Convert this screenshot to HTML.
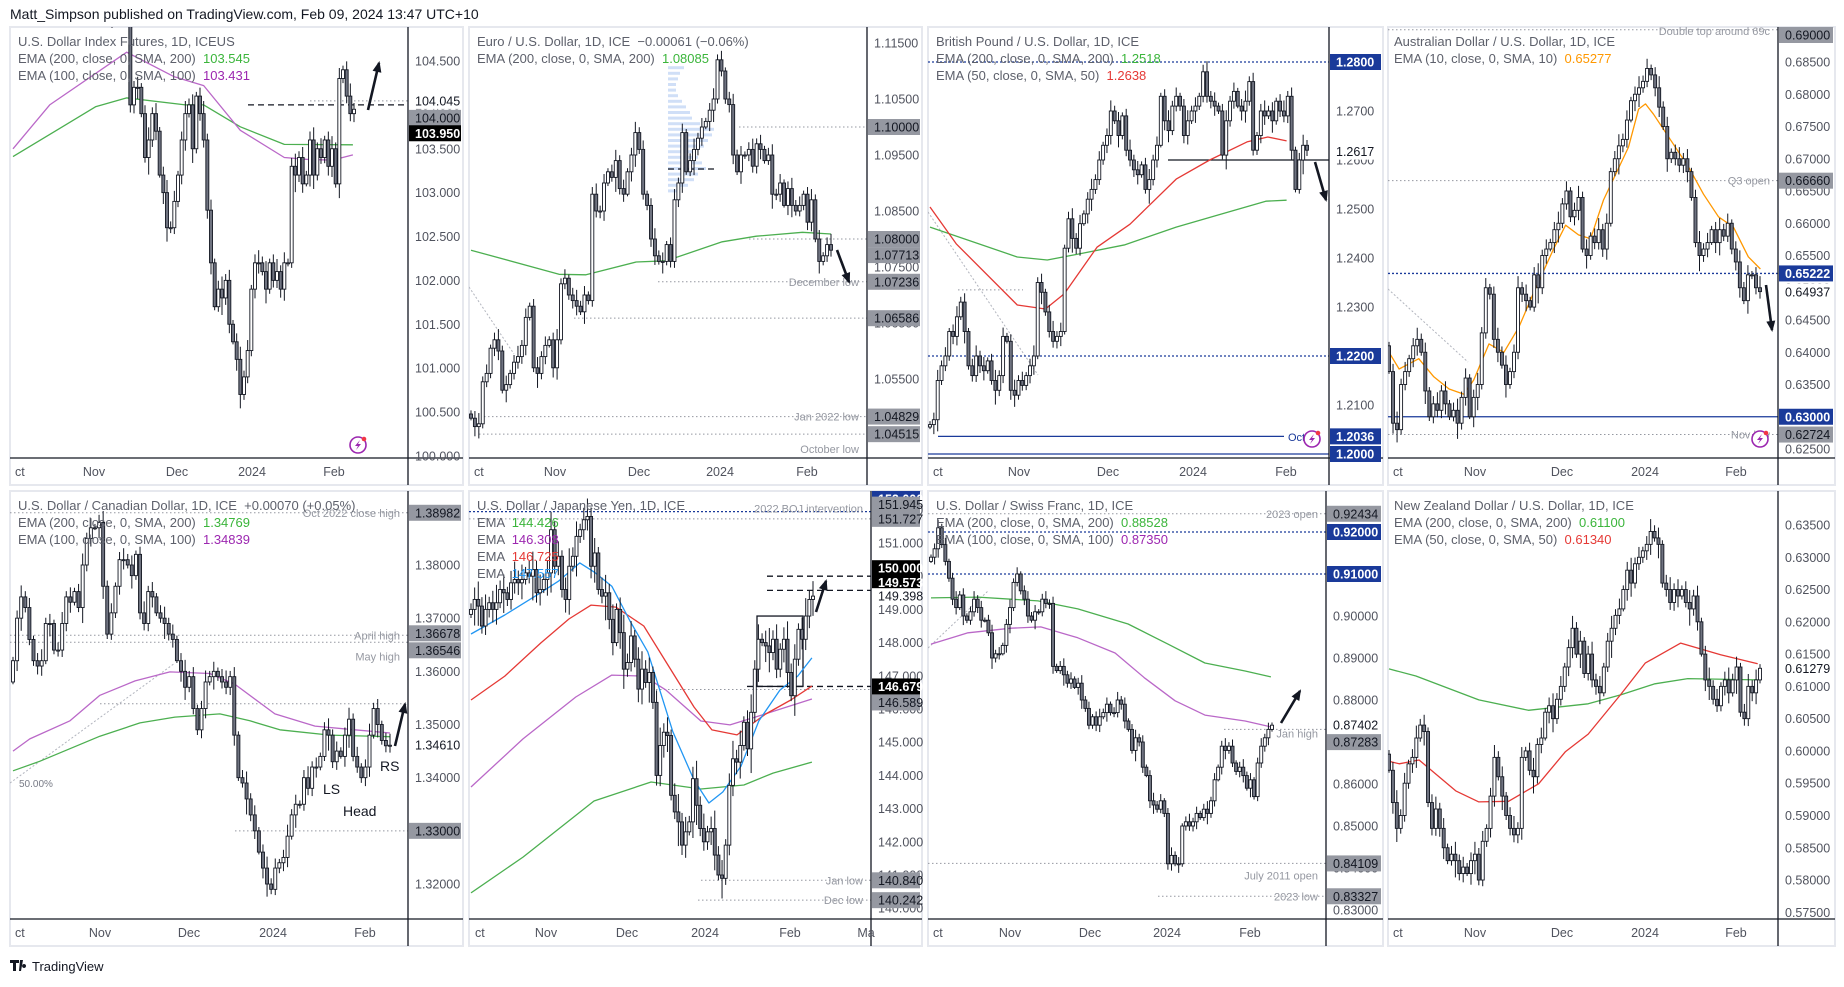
<!DOCTYPE html>
<html><head><meta charset="utf-8">
<style>
html,body{margin:0;padding:0;background:#fff;}
body{width:1844px;height:982px;overflow:hidden;font-family:"Liberation Sans",sans-serif;}
svg text{font-family:"Liberation Sans",sans-serif;}
</style></head>
<body>
<svg id="root" xmlns="http://www.w3.org/2000/svg" width="1844" height="982" viewBox="0 0 1844 982">
<text x="10" y="19" font-size="14" fill="#131722">Matt_Simpson published on TradingView.com, Feb 09, 2024 13:47 UTC+10</text>
<g>
<path d="M10 960h9v3h-3v8h-3v-8h-3z M20 960h3l-2 11h-2z M24 964a2 2 0 1 0 0.1 0z" fill="#131722"/>
<text x="32" y="971" font-size="13" fill="#131722">TradingView</text>
</g>
</svg>
<script>
// ---------- DATA (daily closes, Oct 2023 - Feb 2024) ----------
const monthLabels = ['ct','Nov','Dec','2024','Feb'];
const dxyClose = [106.2,106.6,106.8,106.3,106.1,105.8,105.6,105.4,105.7,106.4,106.5,106.2,106.3,106.3,105.9,106.2,106.1,105.5,105.6,106.0,106.5,106.6,106.8,106.4,106.0,105.1,105.0,105.4,105.6,105.5,105.8,106.0,104.0,104.2,104.2,103.9,103.4,103.6,103.9,103.7,103.2,103.0,102.6,102.6,102.9,103.2,103.6,103.9,104.0,103.5,104.1,103.9,103.6,102.8,102.2,101.7,101.9,101.8,102.0,101.5,101.3,101.1,100.7,100.9,101.2,101.9,102.2,102.2,102.1,101.9,102.2,102.0,102.1,101.9,102.2,102.2,103.3,103.2,103.4,103.1,103.2,103.6,103.2,103.5,103.4,103.6,103.3,103.5,103.1,104.3,104.4,104.1,103.9,103.95];
const eurClose = [1.0480,1.0465,1.0470,1.0545,1.0560,1.0605,1.0620,1.0600,1.0530,1.0540,1.0560,1.0580,1.0590,1.0610,1.0660,1.0680,1.0570,1.0560,1.0590,1.0610,1.0620,1.0570,1.0620,1.0720,1.0730,1.0700,1.0690,1.0680,1.0670,1.0700,1.0690,1.0880,1.0850,1.0850,1.0900,1.0920,1.0910,1.0940,1.0890,1.0880,1.0920,1.0950,1.0990,1.0960,1.0880,1.0860,1.0800,1.0770,1.0760,1.0760,1.0790,1.0760,1.0870,1.0900,1.0990,1.0920,1.0940,1.0960,1.0980,1.1000,1.1010,1.1030,1.1050,1.1120,1.1100,1.1050,1.1040,1.0950,1.0920,1.0950,1.0950,1.0960,1.0930,1.0970,1.0960,1.0940,1.0950,1.0880,1.0880,1.0900,1.0860,1.0890,1.0860,1.0850,1.0860,1.0880,1.0830,1.0870,1.0800,1.0760,1.0770,1.0790,1.0780];
const gbpClose = [1.2060,1.2070,1.2150,1.2180,1.2200,1.2250,1.2240,1.2280,1.2310,1.2250,1.2180,1.2160,1.2200,1.2180,1.2170,1.2190,1.2150,1.2130,1.2160,1.2240,1.2230,1.2130,1.2120,1.2150,1.2140,1.2160,1.2180,1.2200,1.2350,1.2330,1.2290,1.2250,1.2230,1.2240,1.2250,1.2420,1.2480,1.2440,1.2420,1.2470,1.2490,1.2520,1.2540,1.2560,1.2600,1.2630,1.2650,1.2700,1.2680,1.2650,1.2690,1.2620,1.2600,1.2580,1.2570,1.2590,1.2540,1.2560,1.2600,1.2630,1.2730,1.2680,1.2660,1.2710,1.2730,1.2710,1.2650,1.2680,1.2700,1.2710,1.2730,1.2780,1.2730,1.2720,1.2710,1.2700,1.2610,1.2680,1.2720,1.2740,1.2710,1.2700,1.2720,1.2760,1.2620,1.2650,1.2700,1.2690,1.2700,1.2680,1.2720,1.2700,1.2690,1.2730,1.2620,1.2540,1.2600,1.2630,1.2620];
const audClose = [0.6370,0.6290,0.6280,0.6350,0.6370,0.6390,0.6410,0.6420,0.6400,0.6340,0.6300,0.6320,0.6310,0.6340,0.6320,0.6300,0.6310,0.6290,0.6330,0.6360,0.6300,0.6330,0.6350,0.6430,0.6500,0.6490,0.6420,0.6400,0.6380,0.6350,0.6370,0.6400,0.6500,0.6490,0.6480,0.6470,0.6520,0.6500,0.6550,0.6560,0.6570,0.6590,0.6600,0.6630,0.6650,0.6610,0.6620,0.6640,0.6560,0.6550,0.6580,0.6570,0.6590,0.6560,0.6600,0.6680,0.6700,0.6720,0.6730,0.6760,0.6790,0.6800,0.6810,0.6820,0.6840,0.6830,0.6810,0.6780,0.6750,0.6700,0.6710,0.6700,0.6690,0.6700,0.6680,0.6640,0.6570,0.6550,0.6560,0.6570,0.6590,0.6570,0.6590,0.6580,0.6600,0.6560,0.6540,0.6500,0.6480,0.6520,0.6520,0.6500,0.6494];
const cadClose = [1.3620,1.3700,1.3740,1.3720,1.3660,1.3620,1.3610,1.3620,1.3690,1.3690,1.3640,1.3640,1.3690,1.3740,1.3730,1.3750,1.3720,1.3800,1.3850,1.3870,1.3870,1.3880,1.3760,1.3670,1.3710,1.3760,1.3810,1.3810,1.3800,1.3780,1.3820,1.3710,1.3690,1.3750,1.3740,1.3710,1.3700,1.3690,1.3670,1.3660,1.3620,1.3600,1.3570,1.3590,1.3530,1.3490,1.3530,1.3580,1.3590,1.3600,1.3590,1.3580,1.3570,1.3590,1.3480,1.3400,1.3390,1.3360,1.3330,1.3300,1.3260,1.3230,1.3200,1.3190,1.3230,1.3240,1.3250,1.3290,1.3330,1.3350,1.3350,1.3400,1.3380,1.3420,1.3420,1.3440,1.3490,1.3480,1.3430,1.3450,1.3440,1.3480,1.3510,1.3440,1.3420,1.3400,1.3420,1.3480,1.3530,1.3500,1.3470,1.3460,1.3461];
const jpyClose = [149.0,149.3,149.1,148.5,149.0,149.2,149.0,149.2,149.6,149.5,149.3,149.8,149.9,149.8,149.9,150.1,150.0,150.2,149.5,149.6,149.9,150.1,151.4,150.3,150.6,149.6,149.3,150.3,150.6,151.2,151.4,151.7,151.8,150.3,150.7,149.6,149.4,149.5,148.7,148.0,149.0,148.3,147.2,147.4,148.2,147.5,146.6,147.2,146.8,147.1,146.2,144.0,144.9,145.3,145.2,143.4,142.9,142.6,141.9,142.3,142.6,143.9,143.1,142.4,142.0,142.3,142.4,141.6,141.0,140.9,141.9,143.7,144.5,144.4,144.9,145.6,144.8,145.9,147.2,148.1,148.0,147.9,147.7,148.1,147.2,147.8,148.1,147.1,146.4,147.5,148.4,148.1,148.8,149.3,149.4];
const chfClose = [0.9140,0.9160,0.9210,0.9170,0.9130,0.9090,0.9040,0.9020,0.9050,0.9000,0.8990,0.9010,0.9040,0.9020,0.8990,0.8990,0.8960,0.8900,0.8910,0.8910,0.8930,0.8980,0.9020,0.9080,0.9100,0.9060,0.9040,0.9000,0.8990,0.9010,0.9010,0.9040,0.9030,0.9030,0.8880,0.8870,0.8880,0.8860,0.8840,0.8850,0.8830,0.8840,0.8800,0.8780,0.8740,0.8760,0.8740,0.8760,0.8770,0.8790,0.8770,0.8770,0.8800,0.8790,0.8750,0.8730,0.8680,0.8710,0.8700,0.8640,0.8620,0.8560,0.8550,0.8540,0.8560,0.8530,0.8410,0.8430,0.8410,0.8410,0.8500,0.8510,0.8500,0.8510,0.8530,0.8520,0.8540,0.8530,0.8560,0.8610,0.8640,0.8690,0.8680,0.8690,0.8650,0.8630,0.8640,0.8620,0.8590,0.8610,0.8570,0.8650,0.8690,0.8710,0.8730,0.8740];
const nzdClose = [0.5970,0.5920,0.5880,0.5900,0.5950,0.5980,0.5990,0.6020,0.6040,0.6030,0.5920,0.5880,0.5910,0.5880,0.5850,0.5830,0.5840,0.5830,0.5810,0.5820,0.5810,0.5830,0.5840,0.5800,0.5860,0.5880,0.5930,0.5990,0.5960,0.5930,0.5900,0.5880,0.5870,0.5880,0.5990,0.6000,0.5970,0.5960,0.6010,0.6020,0.6060,0.6070,0.6050,0.6080,0.6100,0.6130,0.6160,0.6190,0.6150,0.6170,0.6120,0.6150,0.6110,0.6100,0.6090,0.6130,0.6170,0.6190,0.6210,0.6220,0.6250,0.6280,0.6260,0.6290,0.6300,0.6310,0.6320,0.6340,0.6330,0.6320,0.6260,0.6250,0.6230,0.6250,0.6240,0.6250,0.6230,0.6220,0.6240,0.6200,0.6150,0.6110,0.6100,0.6080,0.6070,0.6100,0.6110,0.6090,0.6110,0.6130,0.6060,0.6050,0.6100,0.6090,0.6110,0.6128];

// EMA lines: candle index + value
const dxyEma200Idx = [0,22.6,31,47,52,62,74,92.7];
const dxyEma200Val = [103.41,103.98,104.08,104.0,104.0,103.75,103.55,103.545];
const dxyEma100Idx = [0,10,31,44,52,62,74,80,87,92.7];
const dxyEma100Val = [103.5,104.0,104.6,104.32,104.22,103.71,103.4,103.38,103.37,103.43];
const eurEma200Idx = [0,22.5,29.4,42.2,49.9,64.2,72.9,84.7,92];
const eurEma200Val = [1.0780,1.0737,1.0736,1.0759,1.0761,1.0795,1.0805,1.0812,1.0809];
const gbpEma200Idx = [0,22.7,30.5,38.5,50.7,64,75,87.3,92.7];
const gbpEma200Val = [1.2463,1.2402,1.2396,1.2408,1.2427,1.2463,1.2488,1.2516,1.2518];
const gbpEma50Idx = [0,6.8,22.7,30,34.9,43.4,52,64,72.7,82.4,87.8,92.7];
const gbpEma50Val = [1.2504,1.2429,1.2304,1.2296,1.2327,1.2422,1.2469,1.2561,1.2600,1.2637,1.2647,1.2639];
const audEma10Idx = [0,2.5,7.4,11.1,14.9,18.6,21,24.8,28.5,32.2,35.9,40.8,43.8,47,50,53.2,59.4,61.9,63.6,65.6,69.3,74.3,78,81.7,85.4,89.1,92.1];
const audEma10Val = [0.6400,0.6374,0.6390,0.6362,0.6343,0.6335,0.6357,0.6413,0.6400,0.6439,0.6493,0.6560,0.6597,0.6582,0.6576,0.6636,0.6718,0.6777,0.6785,0.6769,0.6734,0.6687,0.6645,0.6610,0.6594,0.6548,0.6529];
const cadEma200Idx = [0,6.6,21.2,31,39.5,50.5,57.8,65.1,77.3,92];
const cadEma200Val = [1.3413,1.3431,1.3478,1.3503,1.3514,1.3520,1.3507,1.3490,1.3480,1.3477];
const cadEma100Idx = [0,4.1,13.9,21.2,29.8,38.3,48,54.1,63.9,73.7,83.4,92];
const cadEma100Val = [1.3450,1.3473,1.3507,1.3555,1.3582,1.3599,1.3596,1.3576,1.3520,1.3497,1.3490,1.3484];
const jpyEmaGIdx = [0,14.3,33.8,49.5,63.2,75,83,93.7];
const jpyEmaGVal = [140.46,141.54,143.23,143.80,143.59,143.71,144.07,144.40];
const jpyEmaPIdx = [0,14.3,28.8,38.7,47.5,53.6,63.2,71.2,79.1,86.8,93.7];
const jpyEmaPVal = [143.65,145.10,146.36,147.02,146.99,146.57,145.64,145.52,145.79,146.06,146.30];
const jpyEmaRIdx = [0,9.3,19.2,26.9,33,39.8,47.5,53.6,61.3,66.2,73.1,81,87.9,93.7];
const jpyEmaRVal = [146.27,146.99,147.99,148.71,149.13,149.07,148.50,147.42,146.06,145.37,145.22,145.85,146.27,146.69];
const jpyEmaBIdx = [0,9.3,18.1,24.2,29.9,33.8,38.7,43.7,48.6,55.5,61.3,65.4,69.2,74.2,79.1,84.9,89.8,93.7];
const jpyEmaBVal = [148.26,148.83,149.43,149.86,150.40,150.13,149.70,148.65,147.72,145.31,143.86,143.17,143.50,144.28,145.64,146.57,146.99,147.54];
const chfEma200Idx = [0,13.1,29.8,40.9,54.9,66,76.3,87.5,94.7];
const chfEma200Val = [0.9043,0.9045,0.9036,0.9017,0.8981,0.8933,0.8888,0.8869,0.8855];
const chfEma100Idx = [0,10.3,22.3,30.6,40.9,51.3,59.6,68,76.3,87.5,94.7];
const chfEma100Val = [0.8933,0.8960,0.8971,0.8974,0.8948,0.8912,0.8852,0.8798,0.8764,0.8750,0.8736];
const nzdEma200Idx = [0,6.9,23,35.7,51,59.4,68.1,76.5,94.4];
const nzdEma200Val = [0.6127,0.6116,0.6079,0.6063,0.6073,0.6087,0.6104,0.6112,0.6110];
const nzdEma50Idx = [0,2.6,7.7,17.1,23,30.6,38.3,45.2,51,59.4,65.6,74.7,84.9,94.4];
const nzdEma50Val = [0.5984,0.5980,0.5986,0.5938,0.5921,0.5922,0.5949,0.5999,0.6026,0.6088,0.6136,0.6167,0.6149,0.6135];
const eurVpPrice = [1.0885,1.0895,1.0905,1.0915,1.0925,1.0935,1.0945,1.0955,1.0965,1.0975,1.0985,1.0995,1.1005,1.1015,1.1025,1.1035,1.1045,1.1055,1.1065,1.1075,1.1085,1.1095,1.1105];
const eurVpLen = [12,20,26,30,38,34,30,28,36,40,44,46,32,24,22,18,14,10,8,8,10,12,16];

// ---------- LAYOUT ----------
const C = {green:'#4caf50', purple:'#ba68c8', red:'#e53935', blue:'#2196f3', orange:'#ff9800'};
const VC = {green:'#3bb53b', purple:'#9c27b0', red:'#e53935', blue:'#2196f3', orange:'#ff9800'};
const panels = [
 {name:'dxy', x:10,y:27,w:453,ph:431,ax:398,pA:104.5,yA:34,k:87.75,dec:3,t0:100,t1:104.5,ts:0.5,x0:3,x1:344,wick:0.12,months:[5,84,167,242,324],close:dxyClose,
  legend:[[['U.S. Dollar Index Futures, 1D, ICEUS']],[['EMA (200, close, 0, SMA, 200)  '],['103.545','green']],[['EMA (100, close, 0, SMA, 100)  '],['103.431','purple']]],
  emas:[[dxyEma200Idx,dxyEma200Val,'green'],[dxyEma100Idx,dxyEma100Val,'purple']],
  lines:[{p:104.0,x1:238,st:'dash'},{p:104.045,x1:300,st:'dot'}],
  tags:[{p:104.045,t:'104.045',s:'t'},{p:104.0,t:'104.000',s:'g',dy:13},{p:103.95,t:'103.950',s:'k',dy:24}],
  arrows:[[358,83,369,36]], icon:[348,418]},
 {name:'eurusd', x:469,y:27,w:453,ph:431,ax:398,pA:1.115,yA:16,k:5600,dec:5,t0:1.045,t1:1.115,ts:0.01,x0:2,x1:362,wick:0.0016,months:[5,86,170,251,338],close:eurClose,
  legend:[[['Euro / U.S. Dollar, 1D, ICE  −0.00061 (−0.06%)']],[['EMA (200, close, 0, SMA, 200)  '],['1.08085','green']]],
  emas:[[eurEma200Idx,eurEma200Val,'green']], vp:true,
  lines:[{p:1.1,x1:270,st:'dot'},{p:1.08,x1:280,st:'dot'},{p:1.07236,x1:189,st:'dot',label:'December low'},{p:1.06586,x1:105,st:'dot'},{p:1.04829,x1:15,st:'dot',label:'Jan 2022 low'},{p:1.04515,x1:10,st:'dot',label:'October low',ldy:15},{p:1.0925,x1:199,x2:245,st:'dash'}],
  tags:[{p:1.1,t:'1.10000',s:'g'},{p:1.08,t:'1.08000',s:'g'},{p:1.07713,t:'1.07713',s:'g'},{p:1.07236,t:'1.07236',s:'g'},{p:1.06586,t:'1.06586',s:'g'},{p:1.04829,t:'1.04829',s:'g'},{p:1.04515,t:'1.04515',s:'g'}],
  diag:[0,260,45,327], arrows:[[368,223,380,255]]},
 {name:'gbpusd', x:928,y:27,w:455,ph:431,ax:401,pA:1.27,yA:84,k:4900,dec:4,t0:1.20,t1:1.28,ts:0.01,x0:2,x1:379,wick:0.0018,months:[5,91,180,265,358],close:gbpClose,
  legend:[[['British Pound / U.S. Dollar, 1D, ICE']],[['EMA (200, close, 0, SMA, 200)  '],['1.2518','green']],[['EMA (50, close, 0, SMA, 50)  '],['1.2638','red']]],
  emas:[[gbpEma200Idx,gbpEma200Val,'green'],[gbpEma50Idx,gbpEma50Val,'red']],
  lines:[{p:1.28,x1:0,st:'dotn'},{p:1.26,x1:240,st:'solid'},{p:1.22,x1:0,st:'dotn'},{p:1.2036,x1:10,x2:356,st:'solidn'},{p:1.20,x1:0,st:'solidn'},{p:1.2335,x1:30,x2:95,st:'dot'}],
  tags:[{p:1.28,t:'1.2800',s:'n'},{p:1.2617,t:'1.2617',s:'t'},{p:1.22,t:'1.2200',s:'n'},{p:1.2036,t:'1.2036',s:'n'},{p:1.20,t:'1.2000',s:'n'}],
  texts:[{x:360,y:414,t:'Oct',fs:11,c:'#1a3a9a'}],
  diag:[0,185,110,348], arrows:[[387,135,398,173]], icon:[384,412]},
 {name:'audusd', x:1388,y:27,w:447,ph:431,ax:390,pA:0.685,yA:35,k:6450,dec:5,t0:0.625,t1:0.69,ts:0.005,x0:1,x1:372,wick:0.0015,months:[5,87,174,257,348],close:audClose,
  legend:[[['Australian Dollar / U.S. Dollar, 1D, ICE']],[['EMA (10, close, 0, SMA, 10)  '],['0.65277','orange']]],
  emas:[[audEma10Idx,audEma10Val,'orange']],
  lines:[{p:0.69,x1:0,st:'dot',label:'Double top around 69c',ldy:1},{p:0.6666,x1:0,st:'dot',label:'Q3 open'},{p:0.65222,x1:0,st:'dotn'},{p:0.63,x1:0,st:'solidn'},{p:0.62724,x1:0,st:'dot',label:'Nov low'}],
  tags:[{p:0.69,t:'0.69000',s:'g'},{p:0.6666,t:'0.66660',s:'g'},{p:0.65222,t:'0.65222',s:'n'},{p:0.64937,t:'0.64937',s:'t'},{p:0.63,t:'0.63000',s:'n'},{p:0.62724,t:'0.62724',s:'g'}],
  diag:[0,262,80,335], arrows:[[378,258,384,303]], icon:[372,412]},
 {name:'usdcad', x:10,y:491,w:453,ph:428,ax:398,pA:1.38,yA:74,k:5317,dec:5,t0:1.31,t1:1.39,ts:0.01,x0:3,x1:380,wick:0.0018,months:[5,90,179,263,355],close:cadClose,
  legend:[[['U.S. Dollar / Canadian Dollar, 1D, ICE  +0.00070 (+0.05%)']],[['EMA (200, close, 0, SMA, 200)  '],['1.34769','green']],[['EMA (100, close, 0, SMA, 100)  '],['1.34839','purple']]],
  emas:[[cadEma200Idx,cadEma200Val,'green'],[cadEma100Idx,cadEma100Val,'purple']],
  lines:[{p:1.38982,x1:0,st:'dot',label:'Oct 2022 close high'},{p:1.36678,x1:0,st:'dot',label:'April high'},{p:1.36546,x1:0,st:'dot',label:'May high',ldy:14},{p:1.3539,x1:90,st:'dot'},{p:1.33,x1:225,st:'dot'}],
  tags:[{p:1.38982,t:'1.38982',s:'g'},{p:1.36678,t:'1.36678',s:'g',dy:-2},{p:1.36546,t:'1.36546',s:'g',dy:8},{p:1.3461,t:'1.34610',s:'t'},{p:1.33,t:'1.33000',s:'g'}],
  texts:[{x:313,y:303,t:'LS',fs:14,c:'#131722'},{x:333,y:325,t:'Head',fs:14,c:'#131722'},{x:370,y:280,t:'RS',fs:14,c:'#131722'},{x:9,y:296,t:'50.00%',fs:10,c:'#787b86'}],
  diag:[0,292,165,172], arrows:[[385,255,395,213]]},
 {name:'usdjpy', x:469,y:491,w:453,ph:428,ax:402,pA:151,yA:52,k:33.2,dec:3,t0:140,t1:152,ts:1,x0:2,x1:344,wick:0.45,months:[6,77,158,236,321,397],close:jpyClose,
  legend:[[['U.S. Dollar / Japanese Yen, 1D, ICE']],[['EMA  '],['144.426','green']],[['EMA  '],['146.308','purple']],[['EMA  '],['146.725','red']],[['EMA  '],['147.557','blue']]],
  emas:[[jpyEmaGIdx,jpyEmaGVal,'green'],[jpyEmaPIdx,jpyEmaPVal,'purple'],[jpyEmaRIdx,jpyEmaRVal,'red'],[jpyEmaBIdx,jpyEmaBVal,'blue']],
  lines:[{p:151.945,x1:0,st:'dotn',label:'2022 BOJ intervention',ldy:-3},{p:151.727,x1:0,st:'dot'},{p:150.0,x1:298,st:'dash'},{p:149.573,x1:298,st:'dash'},{p:146.679,x1:278,st:'dash'},{p:146.589,x1:183,st:'dot'},{p:140.84,x1:232,st:'dot',label:'Jan low'},{p:140.242,x1:229,st:'dot',label:'Dec low'}],
  tags:[{p:152.2,t:'152.000',s:'n',dy:-6},{p:151.945,t:'151.945',s:'g',dy:-7},{p:151.727,t:'151.727',s:'g'},{p:150.0,t:'150.000',s:'k',dy:-8},{p:149.573,t:'149.573',s:'k',dy:-8},{p:149.398,t:'149.398',s:'t'},{p:146.679,t:'146.679',s:'k'},{p:146.589,t:'146.589',s:'g',dy:13},{p:140.84,t:'140.840',s:'g'},{p:140.242,t:'140.242',s:'g'}],
  rect:[288,334,148.8,146.68], arrows:[[347,121,357,90]]},
 {name:'usdchf', x:928,y:491,w:455,ph:428,ax:398,pA:0.9,yA:125,k:4200,dec:5,t0:0.83,t1:0.92,ts:0.01,x0:3,x1:344,wick:0.0016,months:[5,82,162,239,322],close:chfClose,
  legend:[[['U.S. Dollar / Swiss Franc, 1D, ICE']],[['EMA (200, close, 0, SMA, 200)  '],['0.88528','green']],[['EMA (100, close, 0, SMA, 100)  '],['0.87350','purple']]],
  emas:[[chfEma200Idx,chfEma200Val,'green'],[chfEma100Idx,chfEma100Val,'purple']],
  lines:[{p:0.92434,x1:0,st:'dot',label:'2023 open'},{p:0.92,x1:0,st:'dotn'},{p:0.91,x1:0,st:'dotn'},{p:0.8730,x1:296,st:'dot',label:'Jan high',ldy:4},{p:0.84109,x1:0,st:'dot',label:'July 2011 open',ldy:12},{p:0.83327,x1:230,st:'dot',label:'2023 low'}],
  tags:[{p:0.92434,t:'0.92434',s:'g'},{p:0.92,t:'0.92000',s:'n'},{p:0.91,t:'0.91000',s:'n'},{p:0.87402,t:'0.87402',s:'t'},{p:0.87283,t:'0.87283',s:'g',dy:12},{p:0.84109,t:'0.84109',s:'g'},{p:0.83327,t:'0.83327',s:'g'}],
  diag:[0,157,60,100], arrows:[[353,232,372,200]]},
 {name:'nzdusd', x:1388,y:491,w:447,ph:428,ax:390,pA:0.635,yA:34,k:6455,dec:5,t0:0.575,t1:0.64,ts:0.005,x0:1,x1:372,wick:0.0016,months:[5,87,174,257,348],close:nzdClose,
  legend:[[['New Zealand Dollar / U.S. Dollar, 1D, ICE']],[['EMA (200, close, 0, SMA, 200)  '],['0.61100','green']],[['EMA (50, close, 0, SMA, 50)  '],['0.61340','red']]],
  emas:[[nzdEma200Idx,nzdEma200Val,'green'],[nzdEma50Idx,nzdEma50Val,'red']],
  lines:[], tags:[{p:0.61279,t:'0.61279',s:'t'}]}
];

const NS='http://www.w3.org/2000/svg';
const root=document.getElementById('root');
function mk(tag,attrs,parent){const e=document.createElementNS(NS,tag);for(const k in attrs)e.setAttribute(k,attrs[k]);parent.appendChild(e);return e;}

panels.forEach((P,pi)=>{
  const g=mk('g',{transform:`translate(${P.x},${P.y})`},root);
  
  
  const H=P.ph+27;
  const bg=mk('rect',{x:0,y:0,width:P.w,height:H,fill:'#fff',stroke:'#e6e8ee','stroke-width':2},g);
  
  
  const yOf=p=>P.yA+(P.pA-p)*P.k;
  const n=P.close.length;
  const step=(P.x1-P.x0)/(n-1);
  const xOf=i=>P.x0+i*step;
  const cid='clip'+pi;
  const cp=mk('clipPath',{id:cid},g); mk('rect',{x:0,y:0,width:P.ax,height:P.ph},cp);
  const plot=mk('g',{'clip-path':`url(#${cid})`},g);
  
  

  // volume profile (EUR)
  if(P.vp){
    eurVpPrice.forEach((p,i)=>{
      const r=mk('rect',{x:199,y:yOf(p)-2,width:eurVpLen[i],height:3,fill:'#aac4f0',opacity:0.55},plot);
      
      
    });
  }
  if(P.diag){
    const d=mk('line',{x1:P.diag[0],y1:P.diag[1],x2:P.diag[2],y2:P.diag[3],stroke:'#b2b5be','stroke-width':1,'stroke-dasharray':'2 2'},plot);
    
    
  }
  // horizontal lines
  (P.lines||[]).forEach(L=>{
    const y=yOf(L.p);
    const st={dot:['#9598a1','1.5 2.5',1],dotn:['#1a3a9a','2 2',1.3],solidn:['#1a3a9a','',1.3],dash:['#131722','6 4',1.3],solid:['#131722','',1.3]}[L.st];
    const ln=mk('line',{x1:L.x1,y1:y,x2:L.x2!==undefined?L.x2:P.ax,y2:y,stroke:st[0],'stroke-width':st[2],'stroke-dasharray':st[1]},plot);
    
    
    if(L.label){
      const tx=mk('text',{x:P.ax-8,y:y+4+(L.ldy||0),'text-anchor':'end','font-size':11,fill:'#9598a1'},plot);
      tx.textContent=L.label;
      
      
    }
  });
  if(P.rect){
    const r=mk('rect',{x:P.rect[0],y:yOf(P.rect[2]),width:P.rect[1]-P.rect[0],height:yOf(P.rect[3])-yOf(P.rect[2]),fill:'none',stroke:'#131722','stroke-width':1.3},plot);
    
    
  }
  // EMAs
  P.emas.forEach(E=>{
    const pts=E[0].map((ix,j)=>xOf(ix).toFixed(1)+','+yOf(E[1][j]).toFixed(1)).join(' ');
    const pl=mk('polyline',{points:pts,fill:'none',stroke:C[E[2]],'stroke-width':1.3,'stroke-linejoin':'round'},plot);
    
    
  });
  // candles
  P.close.forEach((c,i)=>{
    const o=i>0?P.close[i-1]:c-(P.close[1]-c)*0.5;
    const up=c>=o;
    const wk=P.wick*(0.4+((i*7)%5)/5);
    const hi=Math.max(o,c)+wk, lo=Math.min(o,c)-wk*(0.6+((i*3)%4)/4);
    const x=xOf(i);
    const cg=mk('g',{},plot);
    
    
    mk('line',{x1:x,y1:yOf(hi),x2:x,y2:yOf(lo),stroke:'#131722','stroke-width':1},cg);
    const yt=yOf(Math.max(o,c)), yb=yOf(Math.min(o,c));
    mk('rect',{x:x-1.5,y:yt,width:3,height:Math.max(1,yb-yt),fill:up?'#ffffff':'#6f7380',stroke:'#131722','stroke-width':0.9},cg);
  });
  // arrows
  (P.arrows||[]).forEach(A=>{
    const ag=mk('g',{},plot);
    
    
    mk('line',{x1:A[0],y1:A[1],x2:A[2],y2:A[3],stroke:'#131722','stroke-width':2.6},ag);
    const ang=Math.atan2(A[3]-A[1],A[2]-A[0]);
    const s=9, w=4.5;
    const bx=A[2]-s*Math.cos(ang), by=A[3]-s*Math.sin(ang);
    const px=-Math.sin(ang)*w, py=Math.cos(ang)*w;
    mk('polygon',{points:`${A[2]+2*Math.cos(ang)},${A[3]+2*Math.sin(ang)} ${bx+px},${by+py} ${bx-px},${by-py}`,fill:'#131722'},ag);
  });
  (P.texts||[]).forEach(T=>{
    const t=mk('text',{x:T.x,y:T.y,'font-size':T.fs,fill:T.c},plot);
    t.textContent=T.t;
    
    
  });
  if(P.icon){
    const ic=mk('g',{},plot);
    
    
    mk('circle',{cx:P.icon[0],cy:P.icon[1],r:8,fill:'#fff',stroke:'#9c27b0','stroke-width':1.6},ic);
    mk('path',{d:`M${P.icon[0]+2} ${P.icon[1]-5} L${P.icon[0]-3} ${P.icon[1]+1} L${P.icon[0]} ${P.icon[1]+1} L${P.icon[0]-2} ${P.icon[1]+5} L${P.icon[0]+3} ${P.icon[1]-1} L${P.icon[0]} ${P.icon[1]-1}z`,fill:'#9c27b0'},ic);
    mk('circle',{cx:P.icon[0]+6,cy:P.icon[1]-6,r:2.3,fill:'#f23645'},ic);
  }
  // legend
  P.legend.forEach((row,ri)=>{
    const t=mk('text',{x:pi%4===3?6:8,y:19+ri*17,'font-size':13,fill:'#5d606b'},g);
    
    
    row.forEach(seg=>{
      const ts=mk('tspan',{fill:seg[1]?VC[seg[1]]:'#5d606b','xml:space':'preserve'},t);
      ts.textContent=seg[0];
    });
    t.setAttribute('style','white-space:pre');
  });
  // axes
  const axl=mk('line',{x1:P.ax,y1:0,x2:P.ax,y2:H,stroke:'#131722','stroke-width':1.3},g);
  
  
  const xl=mk('line',{x1:0,y1:P.ph,x2:P.w,y2:P.ph,stroke:'#131722','stroke-width':1.3},g);
  
  
  for(let v=P.t0;v<=P.t1+1e-9;v+=P.ts){
    const y=yOf(v);
    if(y<4||y>P.ph-2)continue;
    const t=mk('text',{x:P.ax+7,y:y+4.5,'font-size':12.5,fill:'#50535e'},g);
    t.textContent=v.toFixed(P.dec);
    
    
  }
  P.months.forEach((mx,mi)=>{
    const lab=mi<5?monthLabels[mi]:'Ma';
    const t=mk('text',{x:mx,y:P.ph+18,'font-size':12.5,fill:'#50535e','text-anchor':mi===0?'start':'middle'},g);
    t.textContent=lab;
    
    
  });
  // tags
  P.tags.forEach(T=>{
    const y=Math.max(8,yOf(T.p)+(T.dy||0));
    const tg=mk('g',{},g);
    
    
    const bgc={g:'#9598a1',k:'#000000',n:'#1a3a9a',t:'#ffffff'}[T.s];
    const fc={g:'#131722',k:'#ffffff',n:'#ffffff',t:'#131722'}[T.s];
    mk('rect',{x:P.ax+1,y:y-8,width:P.w-P.ax-3,height:16,fill:bgc},tg);
    const tx=mk('text',{x:P.ax+7,y:y+4.5,'font-size':12.5,fill:fc,'font-weight':(T.s==='k'||T.s==='n')?'bold':'normal'},tg);
    tx.textContent=T.t;
  });
});
</script>
</body></html>
